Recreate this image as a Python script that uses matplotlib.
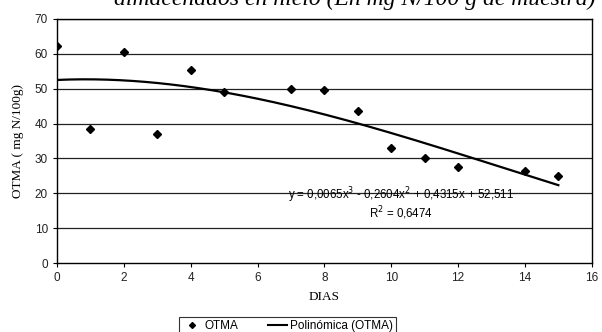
import numpy as np
import matplotlib
matplotlib.use("Agg")
import matplotlib.pyplot as plt
from matplotlib.lines import Line2D

dias = [0, 1, 2, 3, 4, 5, 7, 8, 9, 10, 11, 12, 14, 15]
otma = [62.3, 38.5, 60.5, 37.0, 55.5, 49.0, 50.0, 49.5, 43.5, 33.0, 30.0, 27.5, 26.5, 25.0]
trend_coeffs = [0.0065, -0.2604, 0.4315, 52.511]
x_ticks = [0, 2, 4, 6, 8, 10, 12, 14, 16]
y_ticks = [0, 10, 20, 30, 40, 50, 60, 70]

fig = plt.figure(figsize=(6.02, 3.32), dpi=100)
ax = fig.add_axes([0.0947, 0.2078, 0.8883, 0.735])

for yv in y_ticks[1:]:
    ax.axhline(yv, color="#222222", lw=0.9, zorder=1)

ax.plot(dias, otma, linestyle="none", marker="D", markersize=4,
        color="black", zorder=3)
xs = np.linspace(min(dias), max(dias), 200)
ax.plot(xs, np.polyval(trend_coeffs, xs), color="black", lw=1.6, zorder=2)

ax.set_xlim(0, 16)
ax.set_ylim(0, 70)
ax.set_xticks(x_ticks)
ax.set_yticks(y_ticks)
for s in ax.spines.values():
    s.set_color("black")
    s.set_linewidth(1.0)
ax.tick_params(axis="both", labelsize=8.5, direction="out", length=3,
               width=0.8, colors="black")
for lab in ax.get_xticklabels() + ax.get_yticklabels():
    lab.set_family("Liberation Sans")
    lab.set_color("#222222")

ax.set_xlabel("DIAS", family="Liberation Serif", fontsize=9.5, labelpad=5)
ax.set_ylabel("OTMA ( mg N/100g)", family="Liberation Serif", fontsize=9.5,
              labelpad=8)

ax.text(10.3, 19.5, "y = 0,0065x$^3$ - 0,2604x$^2$ + 0,4315x + 52,511",
        family="Liberation Sans", fontsize=8.3, ha="center", va="center")
ax.text(10.3, 14.2, "R$^2$ = 0,6474", family="Liberation Sans",
        fontsize=8.3, ha="center", va="center")

fig.text(0.59, 0.985, "almacenados en hielo (En mg N/100 g de muestra)",
         family="Liberation Serif", style="italic", fontsize=17,
         ha="center", va="baseline")

handles = [Line2D([], [], linestyle="none", marker="D", markersize=3,
                  color="black"),
           Line2D([], [], color="black", lw=1.5)]
leg = fig.legend(handles, ["OTMA", "Polinómica (OTMA)"], loc="upper center",
                 bbox_to_anchor=(0.478, 0.062), ncol=2, frameon=True,
                 fancybox=False, edgecolor="black",
                 prop={"family": "Liberation Sans", "size": 8.5},
                 handlelength=1.6, columnspacing=2.5, borderpad=0.25,
                 handletextpad=0.3)
leg.get_frame().set_linewidth(0.8)

fig.savefig("out.png", dpi=100)
